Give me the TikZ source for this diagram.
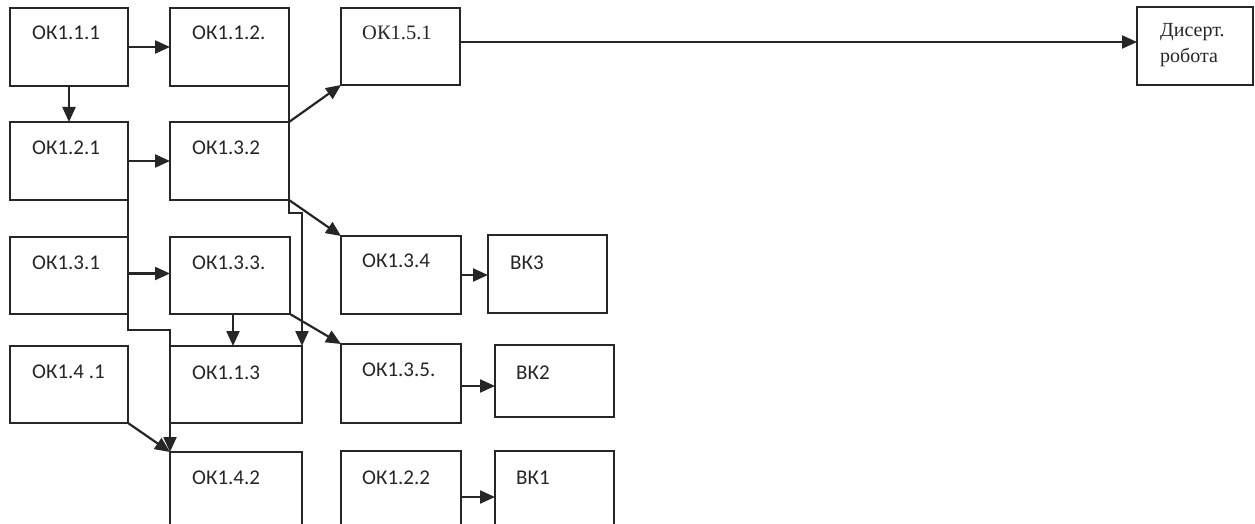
\documentclass[tikz,border=0pt]{standalone}
\usepackage{fontspec}
\setmainfont{Liberation Serif}
\newfontfamily\carl{Carlito}
\usetikzlibrary{arrows.meta,calc}
\definecolor{lc}{HTML}{262626}
\definecolor{tc}{HTML}{262626}
\tikzset{
  bx/.style={draw=lc, line width=2.2pt, inner sep=0pt, outer sep=0pt, anchor=north west},
  sl/.style={anchor=base west, inner sep=0pt, text=tc, font=\carl\fontsize{21}{24}\selectfont},
  rl/.style={anchor=base west, inner sep=0pt, text=tc, font=\fontsize{20.5}{25}\selectfont},
  ln/.style={draw=lc, line width=2.2pt},
  arr/.style={draw=lc, line width=2.2pt, -{Triangle[length=15pt,width=13pt]}}
}
\begin{document}
\begin{tikzpicture}[x=1pt,y=1pt]
\clip (0,0) rectangle (1255,-524);
\fill[white] (0,0) rectangle (1255,-524);
% boxes
\node[bx, minimum width=118pt, minimum height=78pt] (a111) at (10,-8) {};
\node[bx, minimum width=119pt, minimum height=78pt] (a112) at (170,-8) {};
\node[bx, minimum width=119pt, minimum height=77pt] (a151) at (341,-8) {};
\node[bx, minimum width=116pt, minimum height=78pt] (dis) at (1137,-7) {};
\node[bx, minimum width=118pt, minimum height=78pt] (a121) at (10,-122) {};
\node[bx, minimum width=119pt, minimum height=78pt] (a132) at (170,-122) {};
\node[bx, minimum width=118pt, minimum height=77pt] (a131) at (10,-237) {};
\node[bx, minimum width=120pt, minimum height=77pt] (a133) at (170,-237) {};
\node[bx, minimum width=120pt, minimum height=78pt] (a134) at (341,-236) {};
\node[bx, minimum width=119pt, minimum height=78pt] (bk3) at (488,-235) {};
\node[bx, minimum width=118pt, minimum height=77pt] (a141) at (10,-346) {};
\node[bx, minimum width=132pt, minimum height=77pt] (a113) at (170,-346) {};
\node[bx, minimum width=120pt, minimum height=79pt] (a135) at (341,-344) {};
\node[bx, minimum width=119pt, minimum height=72pt] (bk2) at (495,-345) {};
\node[bx, minimum width=132pt, minimum height=90pt] (a142) at (170,-452) {};
\node[bx, minimum width=120pt, minimum height=90pt] (a122) at (341,-451) {};
\node[bx, minimum width=119pt, minimum height=90pt] (bk1) at (495,-451) {};
% labels
\node[sl] (t111) at ($(a111.north west)+(22,-32)$) {ОК1.1.1};
\node[sl] (t112) at ($(a112.north west)+(22,-32)$) {ОК1.1.2.};
\node[rl] (t151) at ($(a151.north west)+(21,-32)$) {ОК1.5.1};
\node[rl, anchor=north west, align=left, font=\fontsize{20}{26}\selectfont] (tdis) at ($(dis.north west)+(23,-16)$) {Дисерт.\\робота};
\node[sl] (t121) at ($(a121.north west)+(22,-32)$) {ОК1.2.1};
\node[sl] (t132) at ($(a132.north west)+(22,-32)$) {ОК1.3.2};
\node[sl] (t131) at ($(a131.north west)+(22,-32)$) {ОК1.3.1};
\node[sl] (t133) at ($(a133.north west)+(22,-32)$) {ОК1.3.3.};
\node[sl] (t134) at ($(a134.north west)+(21,-31)$) {ОК1.3.4};
\node[sl] (tbk3) at ($(bk3.north west)+(22,-34)$) {ВК3};
\node[sl] (t141) at ($(a141.north west)+(22,-32)$) {ОК1.4 .1};
\node[sl] (t113) at ($(a113.north west)+(22,-33)$) {ОК1.1.3};
\node[sl] (t135) at ($(a135.north west)+(21,-32)$) {ОК1.3.5.};
\node[sl] (tbk2) at ($(bk2.north west)+(21,-34)$) {ВК2};
\node[sl] (t142) at ($(a142.north west)+(22,-32)$) {ОК1.4.2};
\node[sl] (t122) at ($(a122.north west)+(21,-33)$) {ОК1.2.2};
\node[sl] (tbk1) at ($(bk1.north west)+(21,-33)$) {ВК1};
% junctions
\coordinate (j1) at (289,-213);
\coordinate (j2) at (302,-213);
\coordinate (j3) at (128,-330);
\coordinate (j4) at (170,-330);
% connectors
\draw[arr] (a111.east) -- (a112.west);
\draw[arr] (a111.south) -- (a121.north);
\draw[arr] (a121.east) -- (a132.west);
\draw[arr] (a132.north east) -- (a151.south west);
\draw[arr] ([yshift=4.5pt]a151.east) -- ([yshift=4.5pt]a151.east -| dis.west);
\draw[arr] (a112.south east) -- (j1) -- (j2) -- (a113.north east);
\draw[arr] (a132.south east) -- (a134.north west);
\draw[arr] ([yshift=2pt]a131.east) -- ([yshift=2pt]a131.east -| a133.west);
\draw[arr] (a121.south east) -- (j3) -- (j4) -- (a142.north west);
\draw[arr] ([xshift=3pt]a133.south) -- ([xshift=3pt]a133.south |- a113.north);
\draw[arr] (a133.south east) -- (a135.north west);
\draw[arr] (a141.south east) -- (a142.north west);
\draw[arr] (a134.east) -- (a134.east -| bk3.west);
\draw[arr] ([yshift=-2.5pt]a135.east) -- ([yshift=-2.5pt]a135.east -| bk2.west);
\draw[arr] ([yshift=-1pt]a122.east) -- ([yshift=-1pt]a122.east -| bk1.west);
\end{tikzpicture}
\end{document}
